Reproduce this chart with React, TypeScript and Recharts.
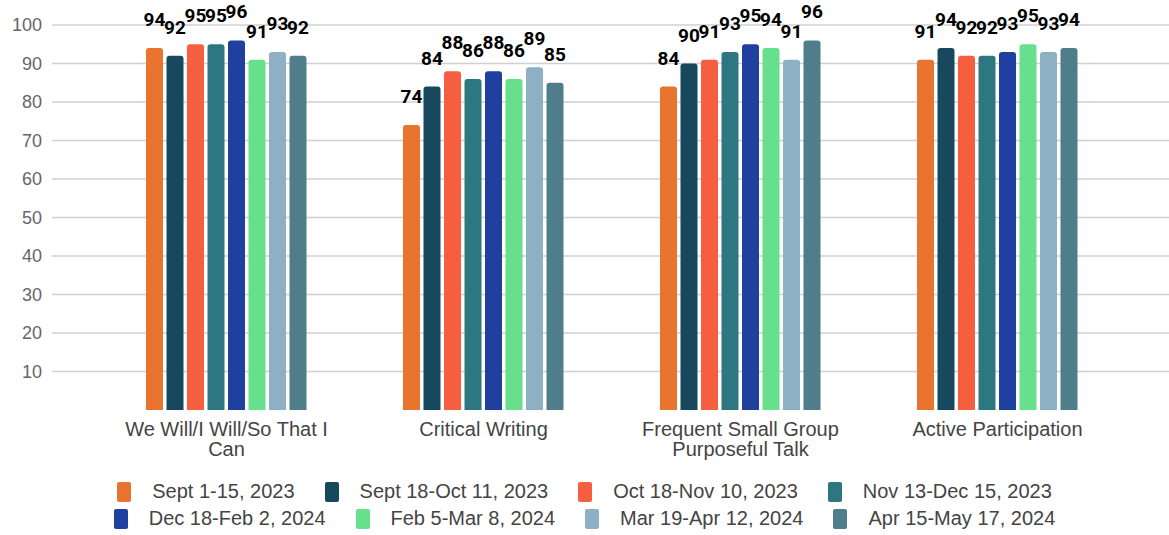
import React from "react";
import {
  BarChart,
  Bar,
  XAxis,
  YAxis,
  CartesianGrid,
  Legend,
  LabelList,
} from "recharts";

const categories = [
  "We Will/I Will/So That I Can",
  "Critical Writing",
  "Frequent Small Group Purposeful Talk",
  "Active Participation",
];

const periods = [
  "Sept 1-15, 2023",
  "Sept 18-Oct 11, 2023",
  "Oct 18-Nov 10, 2023",
  "Nov 13-Dec 15, 2023",
  "Dec 18-Feb 2, 2024",
  "Feb 5-Mar 8, 2024",
  "Mar 19-Apr 12, 2024",
  "Apr 15-May 17, 2024",
];

const colors = [
  "#E8742F",
  "#17485E",
  "#F55F40",
  "#2D7880",
  "#1F409E",
  "#66E08C",
  "#8EB0C4",
  "#4F7D8A",
];

// one array per period, values in category order
const sept1to15 = [94, 74, 84, 91];
const sept18toOct11 = [92, 84, 90, 94];
const oct18toNov10 = [95, 88, 91, 92];
const nov13toDec15 = [95, 86, 93, 92];
const dec18toFeb2 = [96, 88, 95, 93];
const feb5toMar8 = [91, 86, 94, 95];
const mar19toApr12 = [93, 89, 91, 93];
const apr15toMay17 = [92, 85, 96, 94];

const yTicks = [10, 20, 30, 40, 50, 60, 70, 80, 90, 100];
const yMax = 100;

const series = [
  sept1to15,
  sept18toOct11,
  oct18toNov10,
  nov13toDec15,
  dec18toFeb2,
  feb5toMar8,
  mar19toApr12,
  apr15toMay17,
];

const chartData = categories.map((name, i) => {
  const row: Record<string, string | number> = { name };
  series.forEach((s, j) => {
    row[`s${j}`] = s[i];
  });
  return row;
});

const FONT = '"Liberation Sans", Arial, sans-serif';

// grid only at the labelled ticks (no line at 0)
function gridRows({ yAxis, offset }: any) {
  const sc = yAxis && yAxis.scale;
  return yTicks.map((t) => {
    if (typeof sc === "function") return sc(t);
    if (sc && typeof sc.map === "function") return sc.map(t);
    return offset.top + offset.height * (1 - t / yMax);
  });
}

// simple word wrap by character count
function wrap(text: string, maxChars: number) {
  const lines: string[] = [];
  let cur = "";
  text.split(" ").forEach((w) => {
    const next = cur ? cur + " " + w : w;
    if (next.length > maxChars && cur) {
      lines.push(cur);
      cur = w;
    } else {
      cur = next;
    }
  });
  if (cur) lines.push(cur);
  return lines;
}

function CategoryTick(props: any) {
  const { x, y, payload } = props;
  const lines = wrap(String(payload.value), 24);
  return (
    <text
      x={x}
      y={y}
      textAnchor="middle"
      fontFamily={FONT}
      fontSize={20}
      fill="#444"
    >
      {lines.map((l, i) => (
        <tspan key={i} x={x} dy={i === 0 ? "0.9em" : 20}>
          {l}
        </tspan>
      ))}
    </text>
  );
}

// legend drawn from the period/colour lists so the order stays as in the source
function LegendRows() {
  const rows = [periods.slice(0, 4), periods.slice(4, 8)];
  return (
    <div style={{ height: 62, paddingTop: 8, boxSizing: "border-box" }}>
      {rows.map((row, r) => (
        <div
          key={r}
          style={{
            display: "flex",
            justifyContent: "center",
            alignItems: "center",
            height: 27,
          }}
        >
          {row.map((label, k) => (
            <div
              key={label}
              style={{
                display: "flex",
                alignItems: "center",
                marginLeft: k === 0 ? 0 : 30,
              }}
            >
              <span
                style={{
                  display: "inline-block",
                  width: 14,
                  height: 20,
                  borderRadius: 2,
                  background: colors[r * 4 + k],
                  marginRight: 21,
                }}
              />
              <span style={{ fontFamily: FONT, fontSize: 20, color: "#444" }}>
                {label}
              </span>
            </div>
          ))}
        </div>
      ))}
    </div>
  );
}

export default function App() {
  return (
    <div style={{ position: "absolute", left: 0, top: 0, background: "#fff" }}>
      <BarChart
        width={1169}
        height={535}
        data={chartData}
        margin={{ top: 25, right: 0, bottom: 3, left: 0 }}
        barSize={17}
        barGap={3.5}
      >
        <CartesianGrid
          vertical={false}
          stroke="#d0d0d0"
          strokeWidth={1.3}
          horizontalCoordinatesGenerator={gridRows}
        />
        <XAxis
          dataKey="name"
          axisLine={false}
          tickLine={false}
          interval={0}
          height={60}
          padding={{ left: 46, right: 43 }}
          tick={<CategoryTick />}
        />
        <YAxis
          width={52}
          domain={[0, yMax]}
          ticks={yTicks}
          axisLine={false}
          tickLine={false}
          tickSize={0}
          tickMargin={10}
          tick={{ fontFamily: FONT, fontSize: 18, fill: "#666" }}
        />
        <Legend verticalAlign="bottom" content={<LegendRows />} />
        {periods.map((p, j) => (
          <Bar
            key={p}
            dataKey={`s${j}`}
            name={p}
            fill={colors[j]}
            radius={[3, 3, 0, 0]}
            isAnimationActive={false}
          >
            <LabelList
              dataKey={`s${j}`}
              position="top"
              offset={22}
              style={{
                fontFamily: "Roboto, Arial, sans-serif",
                fontWeight: 700,
                fontSize: 19,
                fill: "#000",
              }}
            />
          </Bar>
        ))}
      </BarChart>
    </div>
  );
}
